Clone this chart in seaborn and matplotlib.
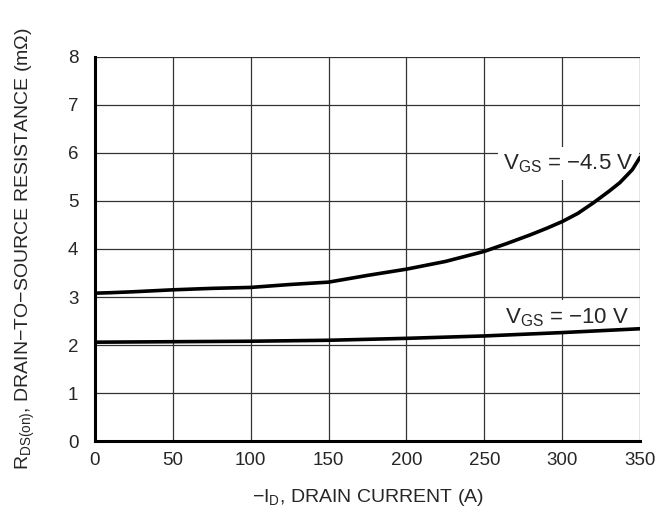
import numpy as np
import pandas as pd
import matplotlib
matplotlib.use("Agg")
import matplotlib.pyplot as plt
import seaborn as sns

# drain current (A)
current_45 = [0, 10, 25, 50, 75, 100, 125, 150, 175, 200, 225, 250, 265, 280, 290, 300,
              310, 320, 330, 337, 345, 350]
rds_45 = [3.08, 3.09, 3.11, 3.15, 3.18, 3.20, 3.26, 3.31, 3.45, 3.58, 3.74, 3.95, 4.12,
          4.30, 4.43, 4.57, 4.74, 4.96, 5.20, 5.38, 5.65, 5.91]

current_10 = [0, 50, 100, 150, 200, 250, 300, 350]
rds_10 = [2.06, 2.07, 2.08, 2.10, 2.14, 2.19, 2.26, 2.34]

x_ticks = [0, 50, 100, 150, 200, 250, 300, 350]
y_ticks = [0, 1, 2, 3, 4, 5, 6, 7, 8]

df = pd.concat([
    pd.DataFrame({"current": current_45, "rds": rds_45, "vgs": "-4.5 V"}),
    pd.DataFrame({"current": current_10, "rds": rds_10, "vgs": "-10 V"}),
])

sns.set_style("white")
plt.rcParams["font.family"] = ["Liberation Sans", "DejaVu Sans"]
plt.rcParams["mathtext.fontset"] = "custom"
plt.rcParams["mathtext.rm"] = "Liberation Sans"
plt.rcParams["mathtext.it"] = "Liberation Sans"

fig = plt.figure(figsize=(6.64, 5.16), dpi=100)
ax = fig.add_axes([0.143, 0.145, 0.821, 0.745])

sns.lineplot(data=df, x="current", y="rds", hue="vgs", palette=["black", "black"],
             linewidth=2.6, legend=False, ax=ax, sort=True, zorder=3)

ax.set_xlim(0, 350)
ax.set_ylim(0, 8)
ax.set_xticks(x_ticks)
ax.set_yticks(y_ticks)
ax.grid(True, color="#333333", linewidth=0.9)
ax.tick_params(axis="both", length=0, labelsize=13.5)
ax.tick_params(axis="x", pad=8)
ax.tick_params(axis="y", pad=12)
for side in ["top", "right"]:
    ax.spines[side].set_visible(False)
for side in ["left", "bottom"]:
    ax.spines[side].set_linewidth(2.2)
    ax.spines[side].set_color("black")
    ax.spines[side].set_zorder(4)

ax.set_xlabel(r"$-$I$_{\mathrm{D}}$, DRAIN CURRENT (A)", fontsize=14, labelpad=13)
ax.set_ylabel(r"R$_{\mathrm{DS(on)}}$, DRAIN$-$TO$-$SOURCE RESISTANCE (m$\Omega$)",
              fontsize=14, labelpad=22)

box = dict(facecolor="white", edgecolor="none", pad=4)
ax.text(346, 5.78, r"V$_{\mathrm{GS}}$ = $-$4.5 V", ha="right", va="center",
        fontsize=16, bbox=box, zorder=2)
ax.text(343, 2.58, r"V$_{\mathrm{GS}}$ = $-$10 V", ha="right", va="center",
        fontsize=16, bbox=box, zorder=2)

fig.savefig("out.png", dpi=100)
